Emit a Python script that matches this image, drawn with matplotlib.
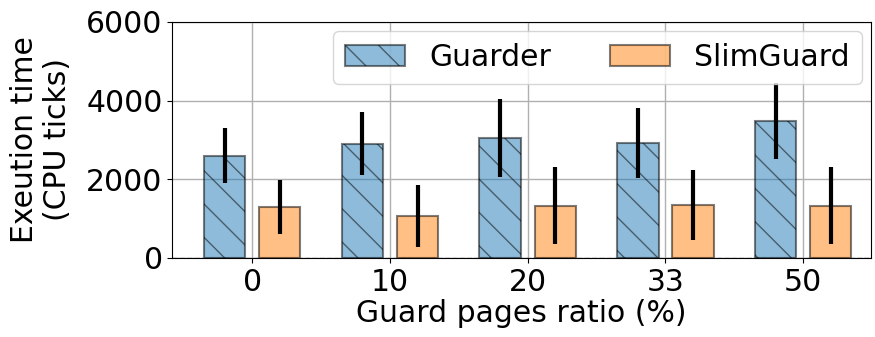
import numpy as np
import matplotlib.pyplot as plt


RATIOS = ['0', '10', '20', '33', '50']

GUARDER = [2600, 2900, 3050, 2920, 3480]
GUARDER_ERR = [690, 800, 990, 885, 975]

SLIMGUARD = [1290, 1060, 1330, 1350, 1330]
SLIMGUARD_ERR = [690, 790, 980, 890, 980]

WIDTH = 0.3


def main():
    plt.rcParams['font.size'] = 21.5
    plt.rcParams['hatch.color'] = (0, 0, 0, 0.5)
    fig, ax = plt.subplots(figsize=(8.75, 3.37), dpi=100)

    x = np.arange(len(RATIOS))
    ax.bar(x - 0.2, GUARDER, WIDTH, yerr=GUARDER_ERR,
           color=(0.12, 0.47, 0.71, 0.5), edgecolor=(0, 0, 0, 0.5),
           linewidth=1.5, hatch='\\', label='Guarder',
           error_kw=dict(elinewidth=3, ecolor='black'), zorder=3)
    ax.bar(x + 0.2, SLIMGUARD, WIDTH, yerr=SLIMGUARD_ERR,
           color=(1.0, 0.5, 0.05, 0.5), edgecolor=(0, 0, 0, 0.5),
           linewidth=1.5, label='SlimGuard',
           error_kw=dict(elinewidth=3, ecolor='black'), zorder=3)

    ax.axhline(0, color='gray', linestyle='--', linewidth=1, zorder=2)
    ax.set_xticks(x)
    ax.set_xticklabels(RATIOS)
    ax.set_xlim(-0.58, 4.49)
    ax.set_ylim(0, 6000)
    ax.set_yticks([0, 2000, 4000, 6000])
    ax.grid(True, linewidth=1, color='#b0b0b0', zorder=0)
    ax.set_axisbelow(True)
    ax.set_xlabel('Guard pages ratio (%)', labelpad=2)
    ax.set_ylabel('Exeution time\n(CPU ticks)', labelpad=10)
    ax.legend(ncol=2, loc='upper right', fontsize=21.5,
              borderaxespad=0.3, columnspacing=2.0)

    plt.subplots_adjust(left=0.197, right=0.995, top=0.935, bottom=0.235)
    plt.savefig('out.png')


if __name__ == '__main__':
    main()
